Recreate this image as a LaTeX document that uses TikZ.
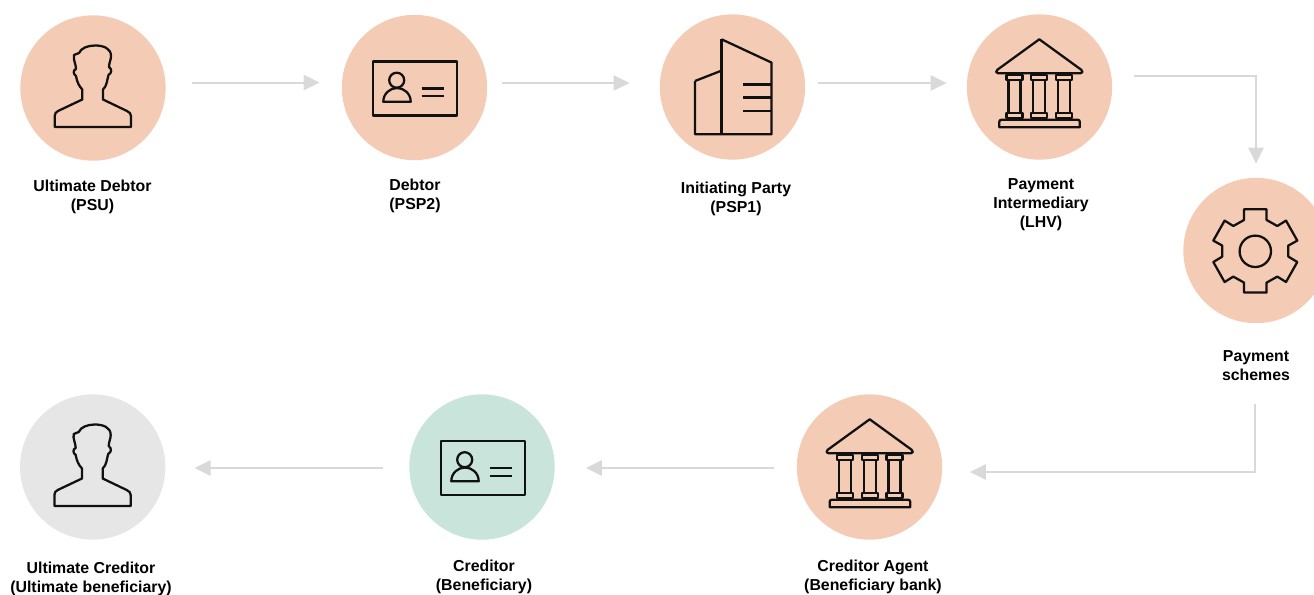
\documentclass[tikz,border=0pt]{standalone}
\usepackage{fontspec}
\setmainfont{Liberation Sans}
\usetikzlibrary{arrows.meta}

\definecolor{peach}{RGB}{244,204,181}
\definecolor{mint}{RGB}{201,228,219}
\definecolor{pale}{RGB}{230,230,230}
\definecolor{flowgrey}{RGB}{217,217,217}
\definecolor{ink}{RGB}{17,17,17}

\tikzset{
  hub/.style={circle,minimum size=109pt,inner sep=0pt},
  caption/.style={inner sep=0pt,align=center,text=black,font=\bfseries\fontsize{11.9}{14.25}\selectfont},
  flow/.style={draw=flowgrey,line width=1.5pt,-{Triangle[length=12pt,width=11.5pt]}},
  icon/.style={draw=ink,line width=1.7pt,line join=round},
  personicon/.pic={
    \draw [icon] (-38.3,39) -- (-38.3,28) .. controls (-38.3,25.5) and (-37,24) .. (-35,23) -- (-10.7,11.5) -- (-10.7,1.5) .. controls (-14,-2) and (-16,-6) .. (-17,-12) .. controls (-20,-14) and (-20,-18) .. (-17,-19) .. controls (-17,-24) and (-20,-28) .. (-19,-33) -- (-14,-35) .. controls (-12,-40) and (-5,-42.5) .. (2,-42.5) .. controls (10,-42.5) and (18,-40) .. (18,-32) .. controls (18,-28) and (16,-25) .. (16,-21) .. controls (19,-19) and (19,-15) .. (15.5,-13) .. controls (14,-8) and (14,-2) .. (10,1.5) -- (10,11.5) -- (34,23) .. controls (36.5,24.5) and (38,25.5) .. (38,28) -- (38,39) -- cycle ;
  },
  cardicon/.pic={
    \draw [icon] (-41,-26) -- (43,-26) -- (43,28) -- (-41,28) -- cycle ;
    \draw [icon] (-17.3,-7.3) circle (7.5) ;
    \draw [icon] (-30.7,14.3) .. controls (-30.7,6) and (-24,0.5) .. (-17,0.5) .. controls (-10,0.5) and (-3.3,6) .. (-3.3,14.3) -- cycle ;
    \draw [icon] (7.7,1) -- (30,1) ;
    \draw [icon] (7.7,8.7) -- (30,8.7) ;
  },
  bankicon/.pic={
    \draw [icon] (0,-48) -- (42,-17.5) .. controls (44,-16) and (43.5,-14) .. (41,-14) -- (-41,-14) .. controls (-43.5,-14) and (-44,-16) .. (-42,-17.5) -- cycle ;
    \foreach \cx in {-24.7,0,24.7} {
      \draw [icon] (\cx-8,-12.3) -- (\cx+8,-12.3) -- (\cx+8,-7.3) -- (\cx-8,-7.3) -- cycle ;
      \draw [icon] (\cx-6,-7.3) -- (\cx-6,26) ;
      \draw [icon] (\cx+6,-7.3) -- (\cx+6,26) ;
      \draw [icon] (\cx-8,31) -- (\cx-8,26) -- (\cx+8,26) -- (\cx+8,31) -- cycle ;
    }
    \draw [icon] (-40,40) -- (-40,34.5) .. controls (-40,33) and (-39,32.5) .. (-38,32.5) -- (38.5,32.5) .. controls (39.5,32.5) and (40.5,33) .. (40.5,34.5) -- (40.5,40) -- cycle ;
  },
  every pic/.style={yscale=-1}
}

\begin{document}
\begin{tikzpicture}[x=0.75pt,y=0.75pt,yscale=-1]
\useasboundingbox (0,0) rectangle (1314,594);

%Circles
\node [hub,fill=peach] (ultdebtor) at (93,88) {};
\node [hub,fill=peach] (debtor) at (414.5,87.5) {};
\node [hub,fill=peach] (initparty) at (732.5,87) {};
\node [hub,fill=peach] (intermediary) at (1039.5,87) {};
\node [hub,fill=peach] (schemes) at (1256,250.5) {};
\node [hub,fill=peach] (agent) at (869.5,467) {};
\node [hub,fill=mint] (creditor) at (482,467) {};
\node [hub,fill=pale] (ultcreditor) at (92.7,467) {};

%Icons
\pic at (93,88) {personicon};
\pic at (414,87.5) {cardicon};
\pic at (1039.3,87.3) {bankicon};
\pic at (869.7,467.3) {bankicon};
\pic at (482,467) {cardicon};
\pic at (92.7,467) {personicon};

%Building
\draw [icon] (695,81) -- (721.6,70.6) ;
\draw [icon] (721.6,39.3) -- (771.6,62.6) -- (771.6,134.3) -- (695,134.3) -- (695,81) ;
\draw [icon] (721.6,39.3) -- (721.6,134.3) ;
\foreach \ly in {84.6,97.6,111} {
  \draw [icon] (743.3,\ly) -- (771.6,\ly) ;
}

%Gear
\draw [icon] (1244,220) -- (1244,209.3) -- (1266.6,209.3) -- (1266.6,220) -- (1277.3,226) -- (1286,220.6) -- (1297.3,240.6) -- (1288.3,245.6) -- (1288.3,256.6) -- (1297.3,262) -- (1286,282) -- (1277.3,276.6) -- (1266.6,282.6) -- (1266.6,292.6) -- (1244,292.6) -- (1244,282.6) -- (1233.3,276.6) -- (1224.6,282) -- (1213.3,262) -- (1222.3,256.6) -- (1222.3,245.6) -- (1213.3,240.6) -- (1224.6,220.6) -- (1233.3,226) -- cycle ;
\draw [icon] (1255.3,251.3) circle (15.7) ;

%Arrows
\draw [flow] ([shift={(26,-5.5)}]ultdebtor.east) -- ([shift={(-22,-5)}]debtor.west) ;
\draw [flow] ([shift={(14.5,-4.5)}]debtor.east) -- ([shift={(-30,-4)}]initparty.west) ;
\draw [flow] ([shift={(13,-4)}]initparty.east) -- ([shift={(-20,-4)}]intermediary.west) ;
\draw [flow] ([shift={(21.5,-11.3)}]intermediary.east) -| ([shift={(0,-14)}]schemes.north) ;
\draw [flow] ([shift={(-1,81)}]schemes.south) |- ([shift={(27.5,5)}]agent.east) ;
\draw [flow] ([shift={(-23,1)}]agent.west) -- ([shift={(31,1)}]creditor.east) ;
\draw [flow] ([shift={(-26,1)}]creditor.west) -- ([shift={(29,1)}]ultcreditor.east) ;

% Text Node
\node [caption] (ultdebtorlabel) at (92.5,197) {Ultimate Debtor\\(PSU)};
% Text Node
\node [caption] (debtorlabel) at (415,196) {Debtor\\(PSP2)};
% Text Node
\node [caption] (initpartylabel) at (736,198.5) {Initiating Party\\(PSP1)};
% Text Node
\node [caption] (intermediarylabel) at (1041,205) {Payment\\Intermediary\\(LHV)};
% Text Node
\node [caption] (schemeslabel) at (1256,366) {Payment\\schemes};
% Text Node
\node [caption] (agentlabel) at (873,577) {Creditor Agent\\(Beneficiary bank)};
% Text Node
\node [caption] (creditorlabel) at (484,576.5) {Creditor\\(Beneficiary)};
% Text Node
\node [caption] (ultcreditorlabel) at (91,578.5) {Ultimate Creditor\\(Ultimate beneficiary)};

\end{tikzpicture}
\end{document}
